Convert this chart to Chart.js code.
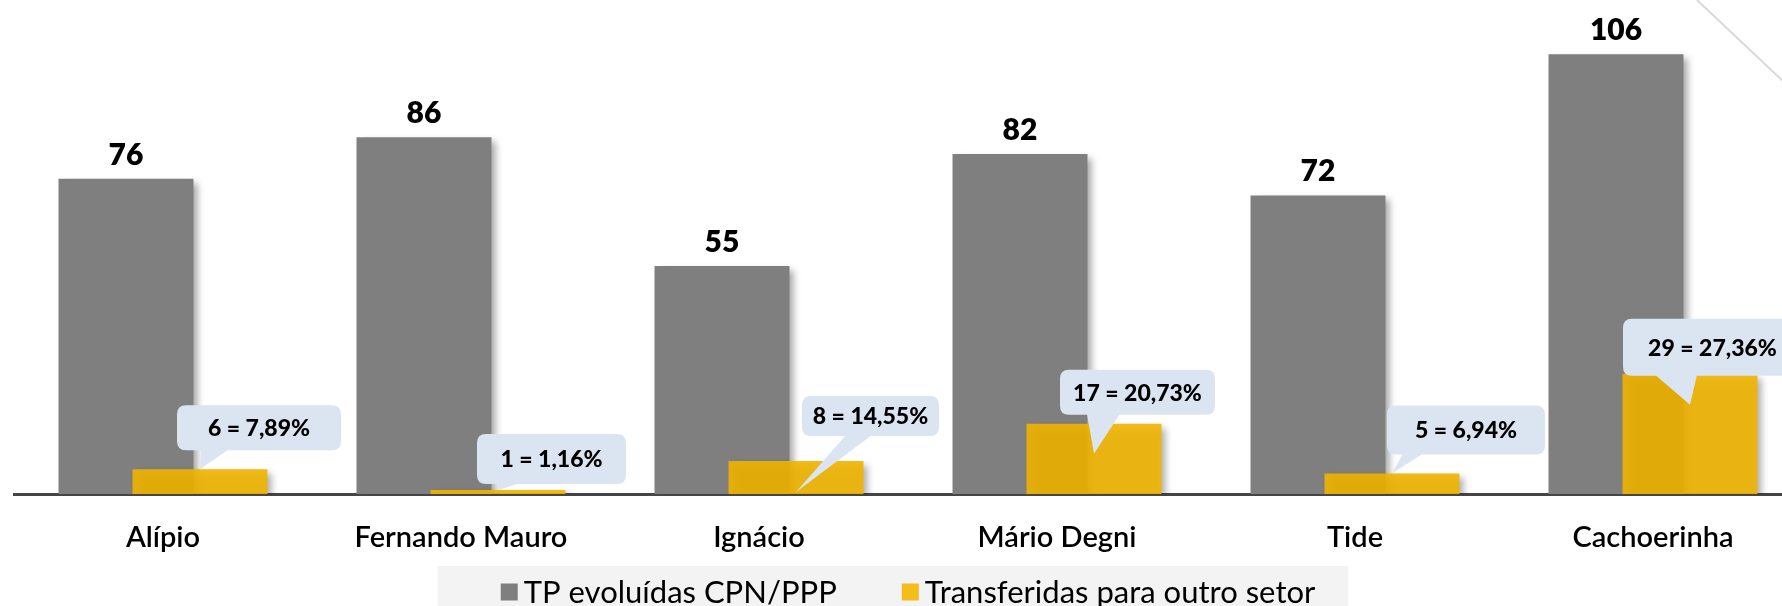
<!DOCTYPE html>
<html>
<head>
<meta charset="utf-8">
<script src="https://cdn.jsdelivr.net/npm/chart.js@4.4.0/dist/chart.umd.min.js"></script>
<style>
html,body{margin:0;padding:0;overflow:hidden;background:#fff;width:1782px;height:606px}
#wrap{position:absolute;left:0;top:0;width:1802px;height:606px}
canvas{display:block}
</style>
</head>
<body>
<div id="wrap"><canvas id="c" width="1802" height="606"></canvas></div>
<script>
// ---- data ----
const categories = ['Alípio', 'Fernando Mauro', 'Ignácio', 'Mário Degni', 'Tide', 'Cachoerinha'];
const evoluidas = [76, 86, 55, 82, 72, 106];
const transferidas = [6, 1, 8, 17, 5, 29];
const calloutLabels = ['6 = 7,89%', '1 = 1,16%', '8 = 14,55%', '17 = 20,73%', '5 = 6,94%', '29 = 27,36%'];
const seriesNames = ['TP evoluídas CPN/PPP', 'Transferidas para outro setor'];

// ---- callout placement relative to each yellow bar (style, not data) ----
const calloutLayout = [
  {dx: -23, dy: -64, w: 164, h: 45, t0: 24, t1: 52, tip: 0},
  {dx: -21, dy: -56, w: 149, h: 50, t0: 20, t1: 44, tip: 0},
  {dx: 6,   dy: -65, w: 137, h: 40, t0: 44, t1: 70, tip: 31},
  {dx: -34, dy: -54, w: 155, h: 45, t0: 27, t1: 60, tip: 30},
  {dx: -5,  dy: -68, w: 158, h: 49, t0: 16, t1: 36, tip: 0},
  {dx: -67, dy: -55, w: 179, h: 57, t0: 32, t1: 74, tip: 31}
];

const GRAY = '#7f7f7f';
const YELLOW = 'rgba(240,180,0,0.9)';
const YELLOW_SOLID = '#f4bd1c';
const FONT = 'Lato, "Open Sans", sans-serif';

const barsPlugin = {
  id: 'barsOrder',
  beforeDatasetsDraw(chart) {
    const ctx = chart.ctx, a = chart.chartArea;
    ctx.save();
    ctx.beginPath();
    ctx.rect(a.left, 0, a.right - a.left + 20, a.bottom);
    ctx.clip();
    ctx.shadowColor = 'rgba(0,0,0,0.35)';
    ctx.shadowBlur = 7;
    ctx.shadowOffsetX = 5;
    ctx.shadowOffsetY = 4;
    chart.getDatasetMeta(0).controller.draw();
    chart.getDatasetMeta(1).controller.draw();
    ctx.restore();
    return false;
  }
};

function rr(ctx, x, y, w, h, r) {
  ctx.moveTo(x + r, y);
  ctx.lineTo(x + w - r, y);
  ctx.quadraticCurveTo(x + w, y, x + w, y + r);
  ctx.lineTo(x + w, y + h - r);
  ctx.quadraticCurveTo(x + w, y + h, x + w - r, y + h);
  ctx.lineTo(x + r, y + h);
  ctx.quadraticCurveTo(x, y + h, x, y + h - r);
  ctx.lineTo(x, y + r);
  ctx.quadraticCurveTo(x, y, x + r, y);
  ctx.closePath();
}

const decoPlugin = {
  id: 'deco',
  afterDraw(chart) {
    const ctx = chart.ctx, a = chart.chartArea;
    // value labels on gray bars
    const m0 = chart.getDatasetMeta(0);
    ctx.save();
    ctx.fillStyle = '#000';
    ctx.font = '800 30px ' + FONT;
    ctx.textAlign = 'center';
    ctx.textBaseline = 'middle';
    m0.data.forEach((bar, i) => {
      ctx.fillText(String(evoluidas[i]), bar.x, bar.y - 24);
    });
    // callouts on yellow bars
    const m1 = chart.getDatasetMeta(1);
    m1.data.forEach((bar, i) => {
      const L = calloutLayout[i];
      const bx = bar.x + L.dx, by = bar.y + L.dy;
      ctx.fillStyle = '#dbe5f1';
      ctx.beginPath();
      rr(ctx, bx, by, L.w, L.h, 9);
      ctx.fill();
      ctx.beginPath();
      ctx.moveTo(bx + L.t0, by + L.h - 1);
      ctx.lineTo(bar.x, bar.y + L.tip);
      ctx.lineTo(bx + L.t1, by + L.h - 1);
      ctx.closePath();
      ctx.fill();
      ctx.fillStyle = '#000';
      ctx.font = '900 23px ' + FONT;
      ctx.fillText(calloutLabels[i], bx + L.w / 2, by + L.h / 2 + 1);
    });
    // legend
    ctx.font = '31px ' + FONT;
    const w1 = ctx.measureText(seriesNames[0]).width;
    const w2 = ctx.measureText(seriesNames[1]).width;
    const box = 17, gapT = 6, gapI = 65;
    const total = box + gapT + w1 + gapI + box + gapT + w2;
    const cx = (a.left + a.right) / 2;
    let x = cx - total / 2;
    const cy = 592;
    ctx.fillStyle = '#f3f3f3';
    ctx.fillRect(x - 63, 566, total + 96, 50);
    ctx.textAlign = 'left';
    ctx.fillStyle = GRAY;
    ctx.fillRect(x, cy - box / 2, box, box);
    ctx.fillStyle = '#000';
    ctx.fillText(seriesNames[0], x + box + gapT, cy + 1);
    x += box + gapT + w1 + gapI;
    ctx.fillStyle = YELLOW_SOLID;
    ctx.fillRect(x, cy - box / 2, box, box);
    ctx.fillStyle = '#000';
    ctx.fillText(seriesNames[1], x + box + gapT, cy + 1);
    // decorative diagonal line, top right
    ctx.strokeStyle = '#d9d9d9';
    ctx.lineWidth = 2;
    ctx.beginPath();
    ctx.moveTo(1697, 0);
    ctx.lineTo(1802, 99);
    ctx.stroke();
    ctx.restore();
  }
};

new Chart(document.getElementById('c'), {
  type: 'bar',
  data: {
    labels: categories,
    datasets: [
      {label: seriesNames[0], data: evoluidas, backgroundColor: GRAY,
       categoryPercentage: 0.4966, barPercentage: 1.824},
      {label: seriesNames[1], data: transferidas, backgroundColor: YELLOW,
       categoryPercentage: 0.4966, barPercentage: 1.824}
    ]
  },
  options: {
    responsive: false,
    animation: false,
    events: [],
    layout: {padding: {left: 14, right: 0, top: 17, bottom: 25}},
    plugins: {legend: {display: false}, tooltip: {enabled: false}},
    scales: {
      x: {
        z: 1,
        grid: {display: false, drawTicks: false},
        border: {display: true, color: '#454545', width: 3},
        ticks: {color: '#000', font: {family: FONT, size: 29, weight: '600'}, padding: 26, maxRotation: 0, autoSkip: false}
      },
      y: {display: false, min: 0, max: 115}
    }
  },
  plugins: [barsPlugin, decoPlugin]
});
</script>
</body>
</html>
